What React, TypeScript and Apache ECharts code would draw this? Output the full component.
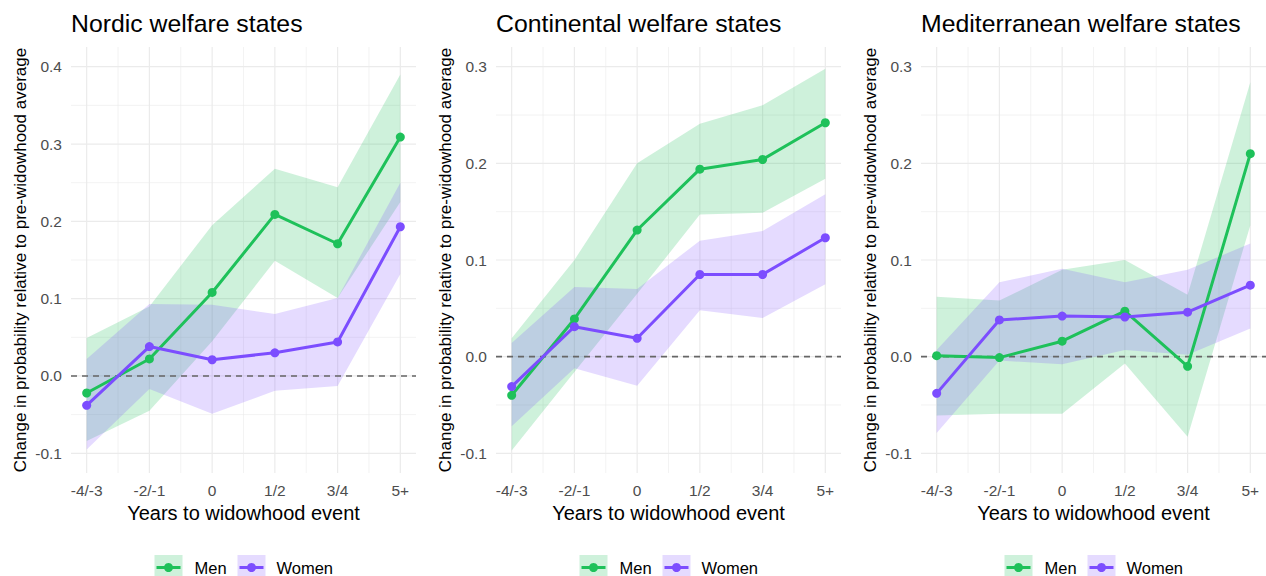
import React, { useEffect, useRef } from 'react';
import * as echarts from 'echarts';

// ---------- data ----------
const categories = ['-4/-3', '-2/-1', '0', '1/2', '3/4', '5+'];
const xPositions = [1, 2, 3, 4, 5, 6];
const xMinorTicks = [1.5, 2.5, 3.5, 4.5, 5.5];

const panelTitles = ['Nordic welfare states', 'Continental welfare states', 'Mediterranean welfare states'];
const seriesNames = ['Men', 'Women'];

// Nordic
const nordicMen = [-0.022, 0.022, 0.108, 0.209, 0.171, 0.309];
const nordicMenLower = [-0.084, -0.045, 0.045, 0.149, 0.101, 0.225];
const nordicMenUpper = [0.049, 0.09, 0.195, 0.268, 0.244, 0.39];
const nordicWomen = [-0.038, 0.038, 0.021, 0.03, 0.044, 0.193];
const nordicWomenLower = [-0.095, -0.017, -0.049, -0.019, -0.013, 0.132];
const nordicWomenUpper = [0.022, 0.093, 0.092, 0.08, 0.101, 0.25];

// Continental
const contMen = [-0.04, 0.039, 0.131, 0.194, 0.204, 0.242];
const contMenLower = [-0.097, -0.016, 0.065, 0.147, 0.149, 0.184];
const contMenUpper = [0.019, 0.1, 0.2, 0.241, 0.26, 0.298];
const contWomen = [-0.031, 0.031, 0.019, 0.085, 0.085, 0.123];
const contWomenLower = [-0.072, -0.012, -0.03, 0.048, 0.04, 0.075];
const contWomenUpper = [0.014, 0.072, 0.07, 0.12, 0.13, 0.168];

// Mediterranean
const medMen = [0.001, -0.001, 0.016, 0.047, -0.01, 0.21];
const medMenLower = [-0.061, -0.059, -0.059, -0.007, -0.083, 0.136];
const medMenUpper = [0.062, 0.058, 0.09, 0.1, 0.064, 0.284];
const medWomen = [-0.038, 0.038, 0.042, 0.041, 0.046, 0.074];
const medWomenLower = [-0.079, -0.004, -0.008, 0.007, 0.002, 0.029];
const medWomenUpper = [0.007, 0.077, 0.091, 0.077, 0.09, 0.117];

// y axes
const yTicksNordic = [-0.1, 0, 0.1, 0.2, 0.3, 0.4];
const yMinorNordic = [-0.05, 0.05, 0.15, 0.25, 0.35];
const yTicksOther = [-0.1, 0, 0.1, 0.2, 0.3];
const yMinorOther = [-0.05, 0.05, 0.15, 0.25];
const yRangeNordic = [-0.1255, 0.4255];
const yRangeOther = [-0.1204, 0.3204];
const xRange = [0.75, 6.25];

const xAxisTitle = 'Years to widowhood event';
const yAxisTitle = 'Change in probability relative to pre-widowhood average';

// ---------- styling ----------
const FONT = '"Liberation Sans", Arial, Helvetica, sans-serif';
const MEN_COLOR = '#1EC15A';
const WOMEN_COLOR = '#7C4DFF';
const MEN_FILL = 'rgba(30,193,90,0.22)';
const WOMEN_FILL = 'rgba(124,77,255,0.2)';
const GRID_COLOR = '#EBEBEB';

const panels = [
  {
    title: panelTitles[0],
    men: nordicMen, menLo: nordicMenLower, menHi: nordicMenUpper,
    women: nordicWomen, womenLo: nordicWomenLower, womenHi: nordicWomenUpper,
    yTicks: yTicksNordic, yMinor: yMinorNordic, yRange: yRangeNordic,
  },
  {
    title: panelTitles[1],
    men: contMen, menLo: contMenLower, menHi: contMenUpper,
    women: contWomen, womenLo: contWomenLower, womenHi: contWomenUpper,
    yTicks: yTicksOther, yMinor: yMinorOther, yRange: yRangeOther,
  },
  {
    title: panelTitles[2],
    men: medMen, menLo: medMenLower, menHi: medMenUpper,
    women: medWomen, womenLo: medWomenLower, womenHi: medWomenUpper,
    yTicks: yTicksOther, yMinor: yMinorOther, yRange: yRangeOther,
  },
];

const PANEL_LEFTS = [71, 496, 921];
const PANEL_W = 345;
const PANEL_TOP = 47;
const PANEL_H = 426;

function bandSeries(idx: number, lo: number[], hi: number[], fill: string, name: string) {
  return {
    type: 'custom',
    name,
    xAxisIndex: idx,
    yAxisIndex: idx,
    z: 2,
    silent: true,
    data: xPositions.map((x, i) => [x, lo[i], hi[i]]),
    encode: { x: 0, y: [1, 2] },
    renderItem: (params: any, api: any) => {
      if (params.dataIndex !== 0) return null;
      const top = xPositions.map((x, i) => api.coord([x, hi[i]]));
      const bottom = xPositions.map((x, i) => api.coord([x, lo[i]])).reverse();
      return {
        type: 'polygon',
        shape: { points: top.concat(bottom) },
        style: { fill, stroke: 'none' },
      };
    },
  };
}

function vLines(idx: number, values: number[], width: number) {
  return {
    type: 'custom',
    xAxisIndex: idx,
    yAxisIndex: idx,
    z: 1,
    silent: true,
    data: values.map((v) => [v, 0]),
    renderItem: (params: any, api: any) => {
      const cs = params.coordSys;
      const p = api.coord([api.value(0), 0]);
      return {
        type: 'line',
        shape: { x1: p[0], y1: cs.y, x2: p[0], y2: cs.y + cs.height },
        style: { stroke: GRID_COLOR, lineWidth: width },
      };
    },
  };
}

function hLines(idx: number, values: number[], width: number, stroke: string, dash: number[] | null, z: number) {
  return {
    type: 'custom',
    xAxisIndex: idx,
    yAxisIndex: idx,
    z,
    silent: true,
    data: values.map((v) => [3, v]),
    renderItem: (params: any, api: any) => {
      const cs = params.coordSys;
      const p = api.coord([3, api.value(1)]);
      return {
        type: 'line',
        shape: { x1: cs.x, y1: p[1], x2: cs.x + cs.width, y2: p[1] },
        style: { stroke, lineWidth: width, lineDash: dash || undefined },
      };
    },
  };
}

function buildOption() {
  const grid: any[] = [];
  const xAxis: any[] = [];
  const yAxis: any[] = [];
  const series: any[] = [];
  const title: any[] = [];
  const graphic: any[] = [];

  panels.forEach((p, idx) => {
    const left = PANEL_LEFTS[idx];
    grid.push({ left, top: PANEL_TOP, width: PANEL_W, height: PANEL_H, containLabel: false });
    xAxis.push({
      type: 'value',
      gridIndex: idx,
      min: xRange[0],
      max: xRange[1],
      axisLine: { show: false },
      axisTick: { show: false },
      splitLine: { show: false },
      axisLabel: {
        customValues: xPositions,
        formatter: (v: number) => {
          const i = xPositions.indexOf(Math.round(v));
          return i >= 0 && Math.abs(v - Math.round(v)) < 1e-6 ? categories[i] : '';
        },
        color: '#4D4D4D',
        fontSize: 15.5,
        fontFamily: FONT,
        margin: 9,
      },
      name: xAxisTitle,
      nameLocation: 'middle',
      nameGap: 28,
      nameTextStyle: { color: '#000', fontSize: 20, fontFamily: FONT },
    });
    yAxis.push({
      type: 'value',
      gridIndex: idx,
      min: p.yRange[0],
      max: p.yRange[1],
      axisLine: { show: false },
      axisTick: { show: false },
      splitLine: { show: false },
      axisLabel: {
        customValues: p.yTicks,
        formatter: (v: number) => v.toFixed(1),
        color: '#4D4D4D',
        fontSize: 15.5,
        fontFamily: FONT,
        margin: 9,
      },
      name: yAxisTitle,
      nameLocation: 'middle',
      nameGap: 42,
      nameTextStyle: { color: '#000', fontSize: 17, fontFamily: FONT },
    });
    title.push({
      text: p.title,
      left: left - 5,
      top: 6,
      textStyle: { color: '#000', fontSize: 24.8, fontWeight: 'normal', fontFamily: FONT },
    });

    // gridlines
    series.push(vLines(idx, xMinorTicks, 0.6));
    series.push(vLines(idx, xPositions, 1.2));
    series.push(hLines(idx, p.yMinor, 0.6, GRID_COLOR, null, 1));
    series.push(hLines(idx, p.yTicks, 1.2, GRID_COLOR, null, 1));

    // bands
    series.push(bandSeries(idx, p.menLo, p.menHi, MEN_FILL, 'Men'));
    series.push(bandSeries(idx, p.womenLo, p.womenHi, WOMEN_FILL, 'Women'));

    // zero reference
    series.push(hLines(idx, [0], 1.6, '#666666', [6, 5], 3));

    // lines
    [
      { name: 'Men', vals: p.men, color: MEN_COLOR },
      { name: 'Women', vals: p.women, color: WOMEN_COLOR },
    ].forEach((s) => {
      series.push({
        type: 'line',
        name: s.name,
        xAxisIndex: idx,
        yAxisIndex: idx,
        z: 4,
        showSymbol: false,
        silent: true,
        data: xPositions.map((x, i) => [x, s.vals[i]]),
        lineStyle: { color: s.color, width: 3 },
        itemStyle: { color: s.color },
      });
    });
    [
      { name: 'Men', vals: p.men, color: MEN_COLOR },
      { name: 'Women', vals: p.women, color: WOMEN_COLOR },
    ].forEach((s) => {
      series.push({
        type: 'scatter',
        name: s.name,
        xAxisIndex: idx,
        yAxisIndex: idx,
        z: 5,
        silent: true,
        symbolSize: 9,
        data: xPositions.map((x, i) => [x, s.vals[i]]),
        itemStyle: { color: s.color, opacity: 1 },
      });
    });

    // legend (per panel, centered under plot area)
    const cx = left + PANEL_W / 2;
    const x0 = cx - 89;
    const keyY = 555;
    const keyH = 26;
    const keyW = 28;
    const entries = [
      { label: seriesNames[0], fill: MEN_FILL, color: MEN_COLOR, kx: x0, tx: x0 + 40 },
      { label: seriesNames[1], fill: WOMEN_FILL, color: WOMEN_COLOR, kx: x0 + 83, tx: x0 + 122 },
    ];
    entries.forEach((e) => {
      graphic.push({
        type: 'rect',
        shape: { x: e.kx, y: keyY, width: keyW, height: keyH },
        style: { fill: e.fill },
        silent: true,
      });
      graphic.push({
        type: 'line',
        shape: { x1: e.kx + 2, y1: keyY + 12.5, x2: e.kx + keyW - 2, y2: keyY + 12.5 },
        style: { stroke: e.color, lineWidth: 3 },
        silent: true,
      });
      graphic.push({
        type: 'circle',
        shape: { cx: e.kx + keyW / 2, cy: keyY + 12.5, r: 4.5 },
        style: { fill: e.color },
        silent: true,
      });
      graphic.push({
        type: 'text',
        x: e.tx,
        y: keyY + 13,
        style: {
          text: e.label,
          fill: '#000',
          fontSize: 16.5,
          fontFamily: FONT,
          verticalAlign: 'middle',
          align: 'left',
        },
        silent: true,
      });
    });
  });

  return {
    animation: false,
    backgroundColor: '#FFFFFF',
    title,
    grid,
    xAxis,
    yAxis,
    series,
    graphic,
  };
}

export default function App() {
  const ref = useRef<HTMLDivElement>(null);
  useEffect(() => {
    if (!ref.current) return;
    const chart = echarts.init(ref.current, undefined, { renderer: 'svg' });
    chart.setOption(buildOption() as any);
    return () => chart.dispose();
  }, []);
  return (
    <div
      ref={ref}
      style={{ position: 'fixed', left: 0, top: 0, width: 1266, height: 576, background: '#fff' }}
    />
  );
}
